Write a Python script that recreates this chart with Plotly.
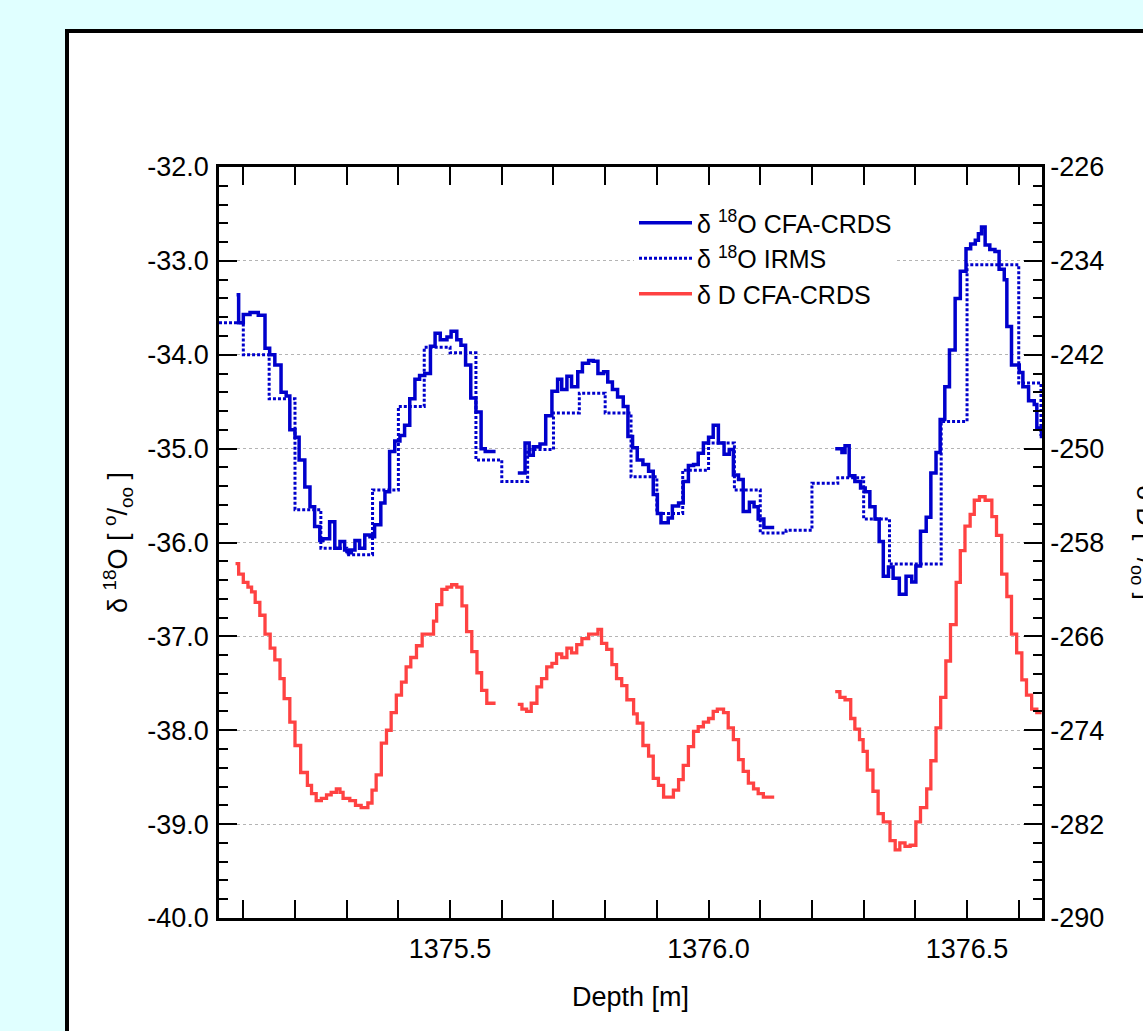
import plotly.graph_objects as go

# ---------------- data ----------------
# d18O CFA-CRDS (step profile; None = data gap)
depth_cfa = [1375.087, 1375.091, 1375.100, 1375.113, 1375.129, 1375.142, 1375.151, 1375.161, 1375.173, 1375.183,
             1375.190, 1375.200, 1375.208, 1375.219, 1375.229, 1375.238, 1375.248, 1375.254, 1375.267, 1375.277,
             1375.287, 1375.296, 1375.303, 1375.309, 1375.316, 1375.325, 1375.335, 1375.345, 1375.354, 1375.366,
             1375.374, 1375.383, 1375.393, 1375.403, 1375.412, 1375.422, 1375.432, 1375.441, 1375.451, 1375.462,
             1375.471, 1375.481, 1375.494, 1375.502, 1375.513, 1375.521, 1375.530, 1375.540, 1375.550, 1375.560,
             1375.568, 1375.588, 1375.600,
             1375.631, 1375.645, 1375.653, 1375.661, 1375.674, 1375.685, 1375.697, 1375.708, 1375.716, 1375.726,
             1375.735, 1375.747, 1375.756, 1375.768, 1375.777, 1375.786, 1375.797, 1375.805, 1375.814, 1375.824,
             1375.835, 1375.844, 1375.853, 1375.862, 1375.873, 1375.884, 1375.893, 1375.901, 1375.908, 1375.922,
             1375.930, 1375.942, 1375.951, 1375.961, 1375.971, 1375.980, 1375.990, 1376.000, 1376.009, 1376.019,
             1376.030, 1376.040, 1376.048, 1376.058, 1376.067, 1376.079, 1376.088, 1376.096, 1376.107, 1376.127,
             1376.140,
             1376.245, 1376.258, 1376.264, 1376.272, 1376.283, 1376.294, 1376.303, 1376.312, 1376.322, 1376.330,
             1376.338, 1376.348, 1376.357, 1376.369, 1376.382, 1376.393, 1376.401, 1376.410, 1376.421, 1376.430,
             1376.440, 1376.448, 1376.457, 1376.466, 1376.477, 1376.487, 1376.498, 1376.507, 1376.516, 1376.522,
             1376.528, 1376.535, 1376.544, 1376.554, 1376.562, 1376.572, 1376.577, 1376.586, 1376.601, 1376.608,
             1376.619, 1376.630, 1376.635, 1376.644]
d18o_cfa = [-33.36, -33.66, -33.57, -33.55, -33.58, -33.93, -34.00, -34.11, -34.40, -34.44,
            -34.80, -34.88, -35.12, -35.41, -35.62, -35.83, -35.98, -35.96, -35.78, -36.06,
            -35.99, -36.08, -36.11, -36.08, -35.98, -36.06, -35.92, -35.94, -35.81, -35.58,
            -35.46, -35.03, -34.92, -34.86, -34.75, -34.47, -34.26, -34.22, -34.20, -33.91,
            -33.77, -33.84, -33.81, -33.75, -33.84, -33.90, -34.11, -34.46, -34.61, -35.00,
            -35.03, -35.03, None,
            -35.26, -34.94, -35.07, -34.98, -34.95, -34.65, -34.39, -34.26, -34.37, -34.23,
            -34.34, -34.18, -34.09, -34.06, -34.07, -34.20, -34.18, -34.29, -34.37, -34.45,
            -34.55, -34.87, -34.99, -35.12, -35.17, -35.24, -35.49, -35.69, -35.79, -35.74,
            -35.61, -35.58, -35.35, -35.18, -35.17, -35.05, -34.94, -34.88, -34.75, -34.94,
            -35.06, -35.01, -35.28, -35.33, -35.67, -35.57, -35.62, -35.75, -35.84, -35.84,
            None,
            -35.00, -35.04, -34.97, -35.29, -35.35, -35.42, -35.46, -35.62, -35.75, -35.99,
            -36.36, -36.26, -36.38, -36.55, -36.36, -36.42, -36.25, -35.88, -35.73, -35.26,
            -35.04, -34.69, -34.34, -33.95, -33.40, -33.11, -32.87, -32.82, -32.78, -32.71,
            -32.64, -32.83, -32.88, -32.90, -33.09, -33.20, -33.70, -34.11, -34.19, -34.34,
            -34.49, -34.53, -34.78, -34.89]

# d18O IRMS (discrete samples, step profile)
depth_irms = [1375.053, 1375.100, 1375.150, 1375.200, 1375.250, 1375.300, 1375.350, 1375.400, 1375.450,
              1375.500, 1375.550, 1375.600, 1375.650, 1375.700, 1375.750, 1375.800, 1375.850, 1375.900,
              1375.950, 1376.000, 1376.050, 1376.100, 1376.150, 1376.200, 1376.250, 1376.300, 1376.350,
              1376.450, 1376.500, 1376.600, 1376.643, 1376.645]
d18o_irms = [-33.66, -34.00, -34.47, -35.65, -36.06, -36.13, -35.44, -34.55, -33.92,
             -33.98, -35.12, -35.35, -35.01, -34.62, -34.41, -34.62, -35.30, -35.69,
             -35.23, -34.94, -35.44, -35.90, -35.87, -35.37, -35.31, -35.75, -36.23,
             -34.71, -33.04, -34.30, -34.85, -34.85]

# dD CFA-CRDS (step profile; None = data gap)
depth_dd = [1375.085, 1375.091, 1375.100, 1375.109, 1375.116, 1375.123, 1375.132, 1375.142, 1375.152, 1375.161,
            1375.171, 1375.179, 1375.190, 1375.200, 1375.211, 1375.224, 1375.232, 1375.241, 1375.251, 1375.261,
            1375.270, 1375.280, 1375.287, 1375.293, 1375.306, 1375.317, 1375.328, 1375.341, 1375.349, 1375.357,
            1375.367, 1375.377, 1375.386, 1375.396, 1375.406, 1375.415, 1375.424, 1375.435, 1375.446, 1375.468,
            1375.474, 1375.484, 1375.494, 1375.503, 1375.513, 1375.523, 1375.532, 1375.542, 1375.552, 1375.561,
            1375.571, 1375.588, 1375.600,
            1375.631, 1375.639, 1375.648, 1375.657, 1375.668, 1375.677, 1375.687, 1375.697, 1375.706, 1375.716,
            1375.726, 1375.735, 1375.745, 1375.755, 1375.768, 1375.786, 1375.793, 1375.803, 1375.813, 1375.822,
            1375.832, 1375.842, 1375.855, 1375.862, 1375.873, 1375.884, 1375.893, 1375.903, 1375.913, 1375.932,
            1375.942, 1375.951, 1375.961, 1375.971, 1375.980, 1375.990, 1376.000, 1376.009, 1376.017, 1376.029,
            1376.038, 1376.048, 1376.058, 1376.067, 1376.077, 1376.087, 1376.096, 1376.106, 1376.127, 1376.140,
            1376.245, 1376.254, 1376.264, 1376.275, 1376.283, 1376.292, 1376.299, 1376.307, 1376.318, 1376.328,
            1376.338, 1376.351, 1376.361, 1376.370, 1376.380, 1376.390, 1376.401, 1376.410, 1376.422, 1376.430,
            1376.440, 1376.449, 1376.459, 1376.468, 1376.479, 1376.487, 1376.496, 1376.506, 1376.514, 1376.524,
            1376.535, 1376.548, 1376.557, 1376.567, 1376.577, 1376.586, 1376.596, 1376.606, 1376.615, 1376.625,
            1376.635, 1376.644]
dd_cfa = [-259.8, -260.7, -261.4, -261.8, -262.2, -263.1, -264.2, -265.8, -267.0, -268.0,
          -269.6, -271.3, -273.3, -275.3, -277.6, -278.7, -279.4, -280.0, -279.8, -279.5,
          -279.3, -279.0, -279.3, -279.8, -280.0, -280.4, -280.6, -280.2, -279.1, -277.8,
          -275.1, -274.0, -272.5, -271.0, -269.9, -268.6, -267.8, -266.8, -265.8, -264.7,
          -263.3, -262.0, -261.8, -261.6, -261.8, -263.4, -265.6, -267.3, -269.1, -270.6,
          -271.7, -271.7, None,
          -271.8, -272.2, -272.4, -271.7, -270.3, -269.6, -268.6, -268.3, -267.5, -267.8,
          -267.0, -267.4, -266.7, -266.2, -265.8, -265.4, -266.6, -267.1, -268.4, -269.6,
          -270.2, -271.4, -272.6, -273.4, -275.3, -276.2, -278.1, -278.7, -279.7, -279.1,
          -278.2, -277.0, -275.4, -274.1, -273.7, -273.3, -273.0, -272.4, -272.2, -272.5,
          -273.8, -274.8, -276.5, -277.5, -278.5, -279.0, -279.4, -279.7, -279.7, None,
          -270.7, -271.2, -271.4, -273.0, -273.9, -274.8, -275.8, -277.4, -279.2, -281.1,
          -281.8, -283.4, -284.2, -283.6, -283.9, -283.8, -281.8, -280.6, -279.0, -276.6,
          -273.8, -271.2, -268.1, -265.0, -261.4, -258.7, -256.6, -255.6, -254.4, -254.1,
          -254.4, -255.8, -257.4, -260.7, -262.6, -265.8, -267.4, -269.7, -271.0, -272.2,
          -272.5, -272.5]

# axis ticks
y1_ticks = [-40, -39, -38, -37, -36, -35, -34, -33, -32]
y1_labels = ["-40.0", "-39.0", "-38.0", "-37.0", "-36.0", "-35.0", "-34.0", "-33.0", "-32.0"]
y2_ticks = [-290, -282, -274, -266, -258, -250, -242, -234, -226]
y2_labels = ["-290", "-282", "-274", "-266", "-258", "-250", "-242", "-234", "-226"]
x_ticks = [1375.5, 1376.0, 1376.5]
x_labels = ["1375.5", "1376.0", "1376.5"]

# ---------------- figure ----------------
W, H = 1143, 1031
L, R, T, B = 219, 101, 167, 113
PW, PH = W - L - R, H - T - B

def px_x(p):
    return (p - L) / PW

def px_y(p):
    return (H - B - p) / PH

FONT = "Liberation Sans, Arial, Helvetica, sans-serif"
BLUE = "#0000cc"
RED = "#ff4242"

fig = go.Figure()
fig.add_trace(go.Scatter(x=depth_cfa, y=d18o_cfa, mode="lines", line_shape="hv",
                         line=dict(color=BLUE, width=3.5), connectgaps=False,
                         name="δ <sup>18</sup>O CFA-CRDS"))
fig.add_trace(go.Scatter(x=depth_irms, y=d18o_irms, mode="lines", line_shape="hv",
                         line=dict(color=BLUE, width=3, dash="3px,2px"),
                         name="δ <sup>18</sup>O IRMS"))
fig.add_trace(go.Scatter(x=depth_dd, y=dd_cfa, mode="lines", line_shape="hv", yaxis="y2",
                         line=dict(color=RED, width=3.3), connectgaps=False,
                         name="δ D CFA-CRDS"))

axis_common = dict(showline=True, linecolor="black", linewidth=2.5, ticks="inside",
                   tickcolor="black", tickwidth=2, ticklen=18, zeroline=False,
                   tickfont=dict(family=FONT, size=27, color="black"))

fig.update_layout(
    width=W, height=H, autosize=False,
    margin=dict(l=L, r=R, t=T, b=B, pad=0),
    paper_bgcolor="#e0ffff", plot_bgcolor="white",
    font=dict(family=FONT, size=26, color="black"),
    xaxis=dict(range=[1375.053, 1376.645], tickmode="array", tickvals=x_ticks, ticktext=x_labels,
               mirror="allticks", showgrid=False, ticklabelstandoff=5,
               minor=dict(dtick=0.1, tick0=1375.0, ticklen=9, tickwidth=2, tickcolor="black", ticks="inside"),
               title=dict(text="Depth [m]", font=dict(family=FONT, size=27), standoff=24),
               **axis_common),
    yaxis=dict(range=[-40, -32], tickmode="array", tickvals=y1_ticks, ticktext=y1_labels,
               showgrid=True, gridcolor="#b4b4b4", gridwidth=1, griddash="dot", ticklabelstandoff=2,
               minor=dict(dtick=0.2, tick0=-40, ticklen=9, tickwidth=2, tickcolor="black", ticks="inside",
                          showgrid=False),
               title=dict(text="δ <sup>18</sup>O [ <sup>o</sup>/<sub>oo</sub> ]",
                          font=dict(family=FONT, size=27), standoff=12),
               **axis_common),
    yaxis2=dict(range=[-290, -226], overlaying="y", side="right", tickmode="array",
                tickvals=y2_ticks, ticktext=y2_labels, showgrid=False, ticklabelstandoff=0,
                minor=dict(dtick=1.6, tick0=-290, ticklen=9, tickwidth=2, tickcolor="black", ticks="inside"),
                **axis_common),
    legend=dict(x=px_x(634), y=px_y(200), xanchor="left", yanchor="top",
                bgcolor="white", borderwidth=0, font=dict(family=FONT, size=25, color="black"),
                tracegroupgap=0, itemwidth=53),
    showlegend=True,
)

# white panel with black frame behind the plot
fig.add_shape(type="rect", xref="paper", yref="paper",
              x0=px_x(67), x1=px_x(1250), y0=px_y(1150), y1=px_y(31),
              line=dict(color="black", width=4), fillcolor="white", layer="below")

# right axis title (rotated clockwise, partly outside the window)
fig.add_annotation(text="δ D [ <sup>o</sup>/<sub>oo</sub> ]", textangle=90,
                   xref="paper", yref="paper", x=px_x(1126), y=0.5,
                   xanchor="left", yanchor="middle", showarrow=False,
                   font=dict(family=FONT, size=26, color="black"))

fig.write_html("out.html", config={"displayModeBar": False},
               post_script="document.body.style.margin='0';document.body.style.padding='0';"
                           "document.body.style.overflow='hidden';")
